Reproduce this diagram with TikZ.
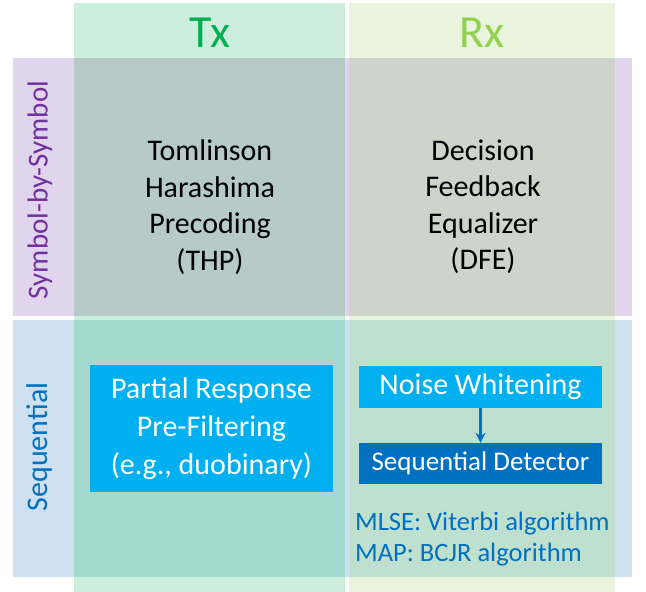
\documentclass[tikz,border=0pt]{standalone}
\usepackage{fontspec}
\setmainfont{Carlito}
\usetikzlibrary{arrows.meta}
\definecolor{txcol}{HTML}{CBEEDD}
\definecolor{rxcol}{HTML}{E8F5DC}
\definecolor{symrow}{HTML}{E0D5EC}
\definecolor{seqrow}{HTML}{CFE0F0}
\definecolor{txsym}{HTML}{B6CBC8}
\definecolor{rxsym}{HTML}{CFD4CB}
\definecolor{txseq}{HTML}{A3D9CF}
\definecolor{rxseq}{HTML}{C0E0CF}
\definecolor{lightbl}{HTML}{00B0F0}
\definecolor{darkbl}{HTML}{0070C0}
\definecolor{txgreen}{HTML}{00B050}
\definecolor{rxgreen}{HTML}{92D050}
\definecolor{purp}{HTML}{7030A0}

\begin{document}
\begin{tikzpicture}[
		x=1pt, y=-1pt,
		head/.style={font=\fontsize{46}{50}\selectfont},
		side/.style={rotate=90, font=\fontsize{29}{34}\selectfont},
		body/.style={align=center, font=\fontsize{30}{36.5}\selectfont},
		block/.style={text=white, inner sep=0pt, align=center, font=\fontsize{30}{38}\selectfont}
	]
  \useasboundingbox (0,0) rectangle (646,592);
  \fill[symrow] (13,58) rectangle (632,316);
  \fill[seqrow] (13,320) rectangle (632,577);
  \fill[txcol] (74,3) rectangle (345,592);
  \fill[rxcol] (349,3) rectangle (615,592);
  \fill[txsym] (74,58) rectangle (345,316);
  \fill[rxsym] (349,58) rectangle (615,316);
  \fill[txseq] (74,320) rectangle (345,577);
  \fill[rxseq] (349,320) rectangle (615,577);

  \node (tx) [head, text=txgreen] at (210,33) {Tx};
  \node (rx) [head, text=rxgreen] at (482,33) {Rx};
  \node (sym) [side, text=purp] at (40,190) {Symbol-by-Symbol};
  \node (seq) [side, text=darkbl, font=\fontsize{30}{34}\selectfont] at (40,447) {Sequential};

  \node (thp) [body] at (210,207) {Tomlinson\\Harashima\\Precoding\\(THP)};
  \node (dfe) [body] at (483,207) {Decision\\Feedback\\Equalizer\\(DFE)};

  \node (prf) [block, fill=lightbl, minimum width=243, minimum height=127] at (211.5,428.5)
    {Partial Response\\Pre-Filtering\\(e.g., duobinary)};
  \node (nw) [block, fill=lightbl, minimum width=243, minimum height=42] at (480.5,387) {Noise Whitening};
  \node (sd) [block, fill=darkbl, minimum width=243, minimum height=41,
    font=\fontsize{27}{30}\selectfont] at (480.5,463.5) {Sequential Detector};
  \node (alg) [anchor=west, align=left, text=darkbl, inner sep=0pt,
    font=\fontsize{26.5}{30.5}\selectfont] at (355,539) {MLSE: Viterbi algorithm\\MAP: BCJR algorithm};

  \draw [darkbl, line width=2.2, -{Stealth[length=10,width=10]}] (nw) -- (sd);
\end{tikzpicture}
\end{document}
